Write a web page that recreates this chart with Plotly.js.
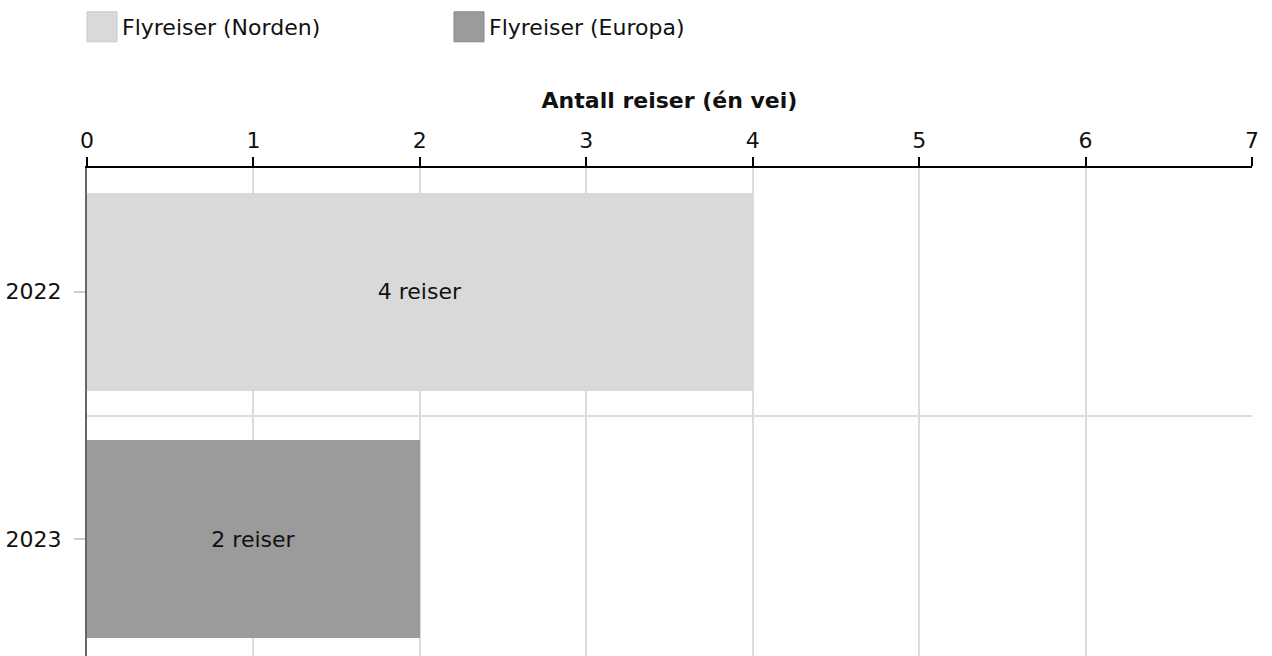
<!DOCTYPE html>
<html>
<head>
<meta charset="utf-8">
<script src="https://cdn.plot.ly/plotly-3.0.1.min.js"></script>
<style>
html,body{margin:0;padding:0;overflow:hidden;background:#fff;}
#chart{width:1272px;height:663px;}
/* enlarge legend swatches to 30x30 squares */
#chart .legend .legendpoints path{
  transform: translate(20px,0px) scale(2.5);
  stroke-width: 0.4px !important;
}
#chart .legend .traces:nth-of-type(1) .legendpoints path{stroke:#c9c9c9 !important;}
#chart .legend .traces:nth-of-type(2) .legendpoints path{stroke:#888888 !important;}
</style>
</head>
<body>
<div id="chart"></div>
<script>
// Data
const years = ["2022", "2023"];
const seriesNames = ["Flyreiser (Norden)", "Flyreiser (Europa)"];
const nordenTrips = [4, null];
const europaTrips = [null, 2];
const xTicks = [0, 1, 2, 3, 4, 5, 6, 7];
const axisTitle = "Antall reiser (én vei)";
const unitLabel = "reiser";

const FONT = "DejaVu Sans, Verdana, sans-serif";
const yIdx = years.map((_, i) => i);

const traces = [
  {
    type: "bar", orientation: "h", name: seriesNames[0],
    x: nordenTrips, y: yIdx,
    marker: {color: "#d9d9d9", line: {width: 0}},
    texttemplate: "%{x} " + unitLabel, textposition: "inside",
    insidetextanchor: "middle", constraintext: "none",
    textfont: {family: FONT, size: 22, color: "#111"},
    hoverinfo: "skip"
  },
  {
    type: "bar", orientation: "h", name: seriesNames[1],
    x: europaTrips, y: yIdx,
    marker: {color: "#9b9b9b", line: {width: 0}},
    texttemplate: "%{x} " + unitLabel, textposition: "inside",
    insidetextanchor: "middle", constraintext: "none",
    textfont: {family: FONT, size: 22, color: "#111"},
    hoverinfo: "skip"
  }
];

const layout = {
  width: 1272, height: 663,
  margin: {l: 87, r: 20, t: 168, b: 0, pad: 0},
  paper_bgcolor: "#fff", plot_bgcolor: "#fff",
  font: {family: FONT, size: 22, color: "#111"},
  barmode: "stack",
  bargap: 0.2,
  showlegend: true,
  legend: {
    orientation: "h", xref: "container", yref: "container",
    x: 82/1272, xanchor: "left", y: 1 - 6/663, yanchor: "top",
    font: {family: FONT, size: 22, color: "#111"},
    entrywidth: 322, entrywidthmode: "pixels",
    traceorder: "normal", itemclick: false, itemdoubleclick: false
  },
  xaxis: {
    side: "top", range: [0, 7], tickvals: xTicks, ticktext: xTicks.map(String),
    showline: true, linecolor: "#000", linewidth: 2,
    ticks: "outside", ticklen: 9, tickwidth: 2, tickcolor: "#000",
    showgrid: true, gridcolor: "#dcdcdc", gridwidth: 2,
    zeroline: false, automargin: false,
    tickfont: {family: FONT, size: 22, color: "#111"},
    title: {text: "<b>" + axisTitle + "</b>", standoff: 14, font: {family: FONT, size: 22, color: "#111"}},
    fixedrange: true
  },
  yaxis: {
    range: [1.5, -0.5], tickmode: "array", tickvals: yIdx, ticktext: years,
    showline: true, linecolor: "#666", linewidth: 2,
    ticks: "outside", ticklen: 11, tickwidth: 2, tickcolor: "#cccccc",
    ticklabelstandoff: 8,
    showgrid: false, zeroline: false, automargin: false,
    minor: {tickvals: [0.5], showgrid: true, gridcolor: "#dcdcdc", gridwidth: 2, ticks: ""},
    tickfont: {family: FONT, size: 22, color: "#111"},
    fixedrange: true
  }
};

Plotly.newPlot("chart", traces, layout, {displayModeBar: false, staticPlot: true});
</script>
</body>
</html>
